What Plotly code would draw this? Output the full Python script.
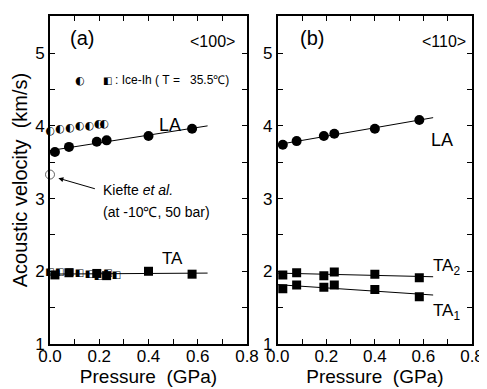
import numpy as np
import plotly.graph_objects as go

# ---- data ----
p_a = [0.02, 0.077, 0.19, 0.23, 0.40, 0.577]
la_a = [3.64, 3.71, 3.78, 3.80, 3.86, 3.96]
ta_a = [1.95, 1.98, 1.97, 1.94, 2.00, 1.96]
p_ih = [0.0, 0.04, 0.08, 0.12, 0.16, 0.197, 0.22]
la_ih = [3.93, 3.95, 3.96, 3.99, 4.00, 4.02, 4.02]
p_ih_ta = [0.0, 0.04, 0.08, 0.12, 0.16, 0.197, 0.235, 0.27]
ta_ih = [1.99, 1.99, 1.98, 1.97, 1.96, 1.93, 1.97, 1.94]
p_kiefte = [0.0]
v_kiefte = [3.33]
p_b = [0.021, 0.078, 0.19, 0.233, 0.40, 0.583]
la_b = [3.74, 3.79, 3.86, 3.89, 3.96, 4.08]
ta2_b = [1.95, 1.98, 1.94, 1.99, 1.96, 1.91]
ta1_b = [1.76, 1.81, 1.78, 1.81, 1.75, 1.65]
fit_x = [0.0, 0.64]

font = "Liberation Sans, Arial, sans-serif"
glyph_font = "DejaVu Sans"
NB = "\u00a0"

fig = go.Figure()

def fitline(x, y, xr):
    c = np.polyfit(x, y, 1)
    return list(xr), [c[0] * v + c[1] for v in xr]

def add_line(x, y, xa, ya):
    fx, fy = fitline(x, y, fit_x)
    fig.add_trace(go.Scatter(x=fx, y=fy, mode="lines", line=dict(color="black", width=1),
                             xaxis=xa, yaxis=ya, showlegend=False, hoverinfo="skip"))

# panel a
add_line(p_a, la_a, "x", "y")
add_line(p_a, ta_a, "x", "y")
fig.add_trace(go.Scatter(x=p_ih, y=la_ih, mode="text", text=["◐"] * len(p_ih),
                         textfont=dict(family=glyph_font, size=11, color="black"),
                         xaxis="x", yaxis="y", showlegend=False, cliponaxis=False))
fig.add_trace(go.Scatter(x=p_ih_ta, y=ta_ih, mode="text", text=["◧"] * len(p_ih_ta),
                         textfont=dict(family=glyph_font, size=10, color="black"),
                         xaxis="x", yaxis="y", showlegend=False, cliponaxis=False))
fig.add_trace(go.Scatter(x=p_a, y=la_a, mode="markers",
                         marker=dict(symbol="circle", size=10, color="black"),
                         xaxis="x", yaxis="y", showlegend=False))
fig.add_trace(go.Scatter(x=p_a, y=ta_a, mode="markers",
                         marker=dict(symbol="square", size=9, color="black"),
                         xaxis="x", yaxis="y", showlegend=False))
fig.add_trace(go.Scatter(x=p_kiefte, y=v_kiefte, mode="markers",
                         marker=dict(symbol="circle", size=9, color="white",
                                     line=dict(color="black", width=0.6)),
                         xaxis="x", yaxis="y", showlegend=False, cliponaxis=False))

# panel b
add_line(p_b, la_b, "x2", "y2")
add_line(p_b, ta2_b, "x2", "y2")
add_line(p_b, ta1_b, "x2", "y2")
fig.add_trace(go.Scatter(x=p_b, y=la_b, mode="markers",
                         marker=dict(symbol="circle", size=10, color="black"),
                         xaxis="x2", yaxis="y2", showlegend=False))
for ser in (ta2_b, ta1_b):
    fig.add_trace(go.Scatter(x=p_b, y=ser, mode="markers",
                             marker=dict(symbol="square", size=9, color="black"),
                             xaxis="x2", yaxis="y2", showlegend=False))

axcommon = dict(showline=True, linecolor="black", linewidth=1.6, mirror="ticks",
                ticks="inside", ticklen=5, tickwidth=1.2, tickcolor="black",
                showgrid=False, zeroline=False, automargin=False,
                tickfont=dict(family=font, size=17, color="black"))

xax = dict(axcommon, range=[0, 0.8], dtick=0.2, tick0=0, tickformat=".1f", ticklabelstandoff=-4,
           minor=dict(dtick=0.1, ticks="inside", ticklen=5, tickcolor="black", showgrid=False),
           title=dict(text=f"Pressure{NB}{NB}(GPa)", font=dict(family=font, size=19, color="black"), standoff=0))
yax = dict(axcommon, range=[1, 5.51], dtick=1, tick0=1, ticklabelstandoff=0,
           minor=dict(dtick=0.5, ticks="inside", ticklen=5, tickcolor="black", showgrid=False))

fig.update_layout(
    width=479, height=381,
    margin=dict(l=42, r=15, t=8, b=45),
    paper_bgcolor="white", plot_bgcolor="white",
    xaxis=dict(xax, domain=[0, 0.4668], anchor="y"),
    yaxis=dict(yax, domain=[0, 1], anchor="x",
               title=dict(text=f"Acoustic velocity{NB}{NB}(km/s)", font=dict(family=font, size=20, color="black"), standoff=2)),
    xaxis2=dict(xax, domain=[0.5396, 1], anchor="y2"),
    yaxis2=dict(yax, domain=[0, 1], anchor="x2"),
)

def ann(text, x, y, xref, yref, size=15, xanchor="center", family=font, **kw):
    fig.add_annotation(text=text, x=x, y=y, xref=xref, yref=yref, showarrow=False,
                       font=dict(family=family, size=size, color="black"), xanchor=xanchor, **kw)

ann("(a)", 0.091, 0.934, "x domain", "y domain", size=20, xanchor="left", yanchor="middle")
ann("&lt;100&gt;", 0.949, 0.921, "x domain", "y domain", size=16, xanchor="right", yanchor="middle")
ann("(b)", 0.104, 0.934, "x2 domain", "y2 domain", size=20, xanchor="left", yanchor="middle")
ann("&lt;110&gt;", 0.979, 0.921, "x2 domain", "y2 domain", size=16, xanchor="right", yanchor="middle")
ann("LA", 0.488, 4.01, "x", "y", size=18)
ann("TA", 0.496, 2.17, "x", "y", size=17)
ann("LA", 0.676, 3.80, "x2", "y2", size=18)
ann("TA<sub>2</sub>", 0.632, 2.06, "x2", "y2", size=17, xanchor="left")
ann("TA<sub>1</sub>", 0.632, 1.44, "x2", "y2", size=17, xanchor="left")
ann("Kiefte <i>et al.</i>", 0.208, 3.12, "x", "y", size=14, xanchor="left")
ann("(at -10℃, 50 bar)", 0.208, 2.81, "x", "y", size=14, xanchor="left")
ann(f":{NB}Ice-Ih{NB}({NB}T{NB}={NB}{NB}{NB}35.5℃)", 0.254, 4.63, "x", "y", size=12, xanchor="left")
ann("◐", 0.122, 4.63, "x", "y", size=11, family=glyph_font)
ann("◧", 0.232, 4.63, "x", "y", size=10, family=glyph_font)
# arrow for Kiefte
fig.add_annotation(x=0.034, y=3.28, xref="x", yref="y", ax=38, ay=11, axref="pixel", ayref="pixel",
                   text="", showarrow=True, arrowhead=2, arrowsize=1, arrowwidth=1, arrowcolor="black")

fig.write_html("out.html")
